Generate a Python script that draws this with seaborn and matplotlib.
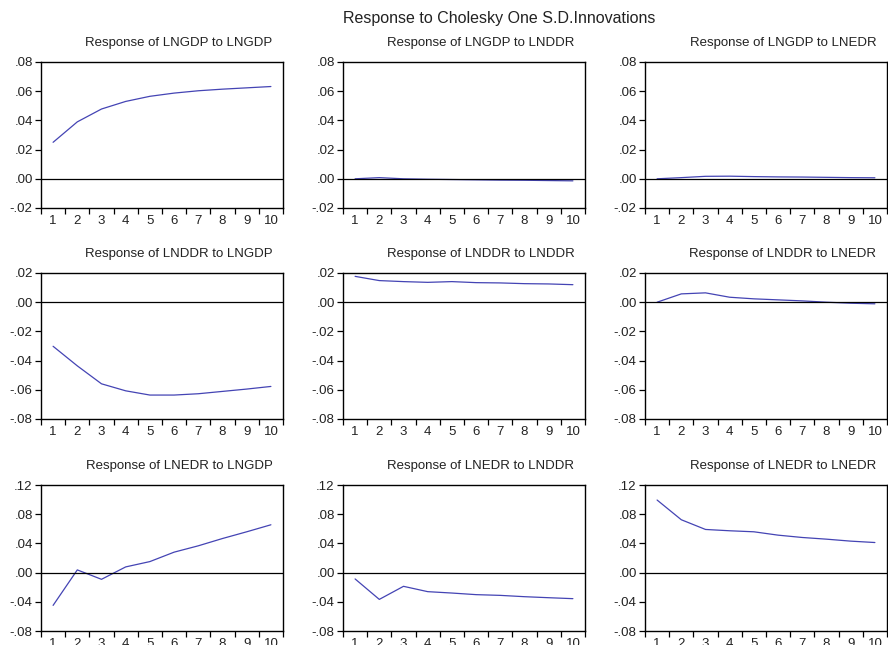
import numpy as np
import pandas as pd
import matplotlib
matplotlib.use('Agg')
import matplotlib.pyplot as plt
from matplotlib.ticker import FuncFormatter, FixedLocator
import seaborn as sns

sns.set_style('white')
plt.rcParams['font.family'] = ['Liberation Sans', 'DejaVu Sans']

periods = list(range(1, 11))
variables = ['LNGDP', 'LNDDR', 'LNEDR']

# response of row variable to shock in column variable
gdp_gdp = [0.0250, 0.0390, 0.0478, 0.0530, 0.0565, 0.0587, 0.0603, 0.0614, 0.0623, 0.0632]
gdp_ddr = [0.0000, 0.0008, 0.0000, -0.0003, -0.0005, -0.0007, -0.0009, -0.0010, -0.0012, -0.0014]
gdp_edr = [0.0000, 0.0008, 0.0017, 0.0018, 0.0015, 0.0013, 0.0012, 0.0010, 0.0008, 0.0007]
ddr_gdp = [-0.0302, -0.0436, -0.0559, -0.0607, -0.0636, -0.0636, -0.0627, -0.0611, -0.0595, -0.0577]
ddr_ddr = [0.0177, 0.0148, 0.0141, 0.0136, 0.0141, 0.0134, 0.0132, 0.0127, 0.0125, 0.0120]
ddr_edr = [0.0000, 0.0057, 0.0064, 0.0034, 0.0023, 0.0016, 0.0009, 0.0000, -0.0007, -0.0011]
edr_gdp = [-0.0449, 0.0037, -0.0092, 0.0078, 0.0151, 0.0280, 0.0367, 0.0467, 0.0559, 0.0655]
edr_ddr = [-0.0087, -0.0367, -0.0188, -0.0261, -0.0280, -0.0302, -0.0312, -0.0330, -0.0344, -0.0357]
edr_edr = [0.0994, 0.0724, 0.0591, 0.0573, 0.0559, 0.0513, 0.0481, 0.0458, 0.0431, 0.0412]

responses = [[gdp_gdp, gdp_ddr, gdp_edr],
             [ddr_gdp, ddr_ddr, ddr_edr],
             [edr_gdp, edr_ddr, edr_edr]]

row_ylim = [(-0.02, 0.08), (-0.08, 0.02), (-0.08, 0.12)]
row_yticks = [[-0.02, 0.00, 0.02, 0.04, 0.06, 0.08],
              [-0.08, -0.06, -0.04, -0.02, 0.00, 0.02],
              [-0.08, -0.04, 0.00, 0.04, 0.08, 0.12]]

W, H = 888, 645
fig = plt.figure(figsize=(W / 100, H / 100), dpi=100)

lefts = [41, 343, 645]
tops = [62, 273, 485]
aw, ah = 242, 146


def fmt(v, pos):
    s = '%.2f' % v
    if s == '-0.00':
        s = '0.00'
    return s.replace('0.', '.', 1)


for i in range(3):
    for j in range(3):
        ax = fig.add_axes([lefts[j] / W, 1 - (tops[i] + ah) / H, aw / W, ah / H])
        df = pd.DataFrame({'period': periods, 'response': responses[i][j]})
        sns.lineplot(data=df, x='period', y='response', ax=ax,
                     color='#4444b4', linewidth=0.9)
        ax.axhline(0, color='black', linewidth=0.9)
        ax.set_xlim(0.5, 10.5)
        ax.set_ylim(*row_ylim[i])
        ax.set_yticks(row_yticks[i])
        ax.yaxis.set_major_formatter(FuncFormatter(fmt))
        ax.set_xticks(periods)
        ax.xaxis.set_minor_locator(FixedLocator(np.arange(0.5, 11, 1)))
        ax.tick_params(axis='x', which='major', length=0, pad=5, labelsize=9.5, labelcolor='#222222')
        ax.tick_params(axis='x', which='minor', length=4, width=0.9, direction='out', color='black', bottom=True)
        ax.tick_params(axis='y', which='major', length=4, width=0.9, direction='out', left=True,
                       labelsize=9.5, color='black', labelcolor='#222222', pad=2)
        ax.set_xlabel('')
        ax.set_ylabel('')
        for sp in ax.spines.values():
            sp.set_visible(True)
            sp.set_color('black')
            sp.set_linewidth(1.0)
        ax.text(0.57, 1.13, 'Response of %s to %s' % (variables[i], variables[j]),
                transform=ax.transAxes, ha='center', va='center', fontsize=9.5, color='#222222')

fig.text(499 / W, 1 - 18 / H, 'Response to Cholesky One S.D.Innovations',
         ha='center', va='center', fontsize=11.5, color='#222222')

fig.savefig('out.png', dpi=100)
